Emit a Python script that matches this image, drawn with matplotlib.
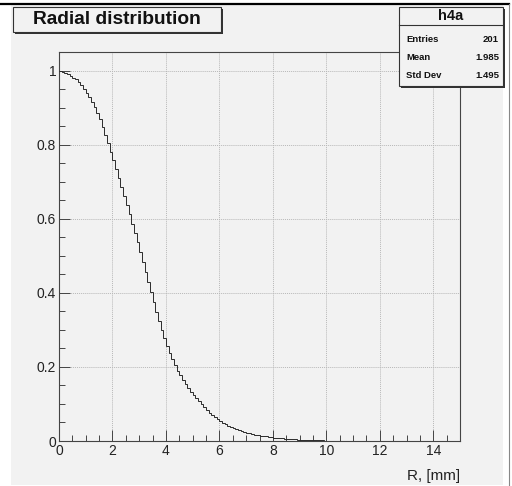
import numpy as np
import matplotlib
matplotlib.use("Agg")
import matplotlib.pyplot as plt
from matplotlib.patches import Rectangle
from matplotlib.lines import Line2D

plt.rcParams['font.family'] = ['Liberation Sans', 'DejaVu Sans']

# histogram contents, bin width 0.1 starting at R = 0
bin_width = 0.1
counts = [
    1.000, 0.998, 0.995, 0.992, 0.987,
    0.982, 0.977, 0.970, 0.961, 0.951,
    0.940, 0.929, 0.916, 0.902, 0.887,
    0.869, 0.848, 0.827, 0.805, 0.782,
    0.758, 0.734, 0.710, 0.686, 0.662,
    0.637, 0.612, 0.587, 0.562, 0.537,
    0.510, 0.483, 0.456, 0.429, 0.402,
    0.375, 0.349, 0.324, 0.300, 0.278,
    0.258, 0.239, 0.221, 0.204, 0.189,
    0.177, 0.165, 0.153, 0.142, 0.132,
    0.124, 0.115, 0.107, 0.099, 0.091,
    0.084, 0.077, 0.071, 0.065, 0.059,
    0.053, 0.049, 0.045, 0.041, 0.038,
    0.035, 0.032, 0.029, 0.027, 0.024,
    0.0225, 0.021, 0.019, 0.0175, 0.016,
    0.0145, 0.0135, 0.0123, 0.0112, 0.0100,
    0.0092, 0.0085, 0.0078, 0.0071, 0.0064,
    0.0058, 0.0053, 0.0048, 0.0043, 0.0038,
    0.0035, 0.0032, 0.0029, 0.0026, 0.0023,
    0.0020, 0.0018, 0.0016, 0.0014, 0.0012,
    0.0010, 0.0009, 0.0008,
]
xticks = [0, 2, 4, 6, 8, 10, 12, 14]
yticks = [0, 0.2, 0.4, 0.6, 0.8, 1.0]
ytick_labels = ['0', '0.2', '0.4', '0.6', '0.8', '1']
title = "Radial distribution"
xlabel = "R, [mm]"
stats_name = "h4a"
stats_rows = [("Entries", "201"), ("Mean", "1.985"), ("Std Dev", "1.495")]

W, H = 512, 486
bg = '#f2f2f2'
fig = plt.figure(figsize=(W / 100, H / 100), dpi=100)
fig.patch.set_facecolor('white')

def fx(px):
    return px / W

def fy(py):
    return 1 - py / H

# canvas background and outer frame lines
fig.patches.append(Rectangle((fx(11), fy(485)), fx(503) - fx(11), fy(5) - fy(485),
                             transform=fig.transFigure, facecolor=bg, edgecolor='none', zorder=-5))
fig.lines.append(Line2D([0, fx(509)], [fy(4), fy(4)], transform=fig.transFigure, color='black', lw=1.6))
fig.lines.append(Line2D([fx(508.5), fx(508.5)], [0, fy(4)], transform=fig.transFigure, color='#888888', lw=0.8))

ax = fig.add_axes([fx(59), fy(441), fx(460) - fx(59), fy(52) - fy(441)])
ax.set_facecolor(bg)

edges = np.arange(len(counts) + 1) * bin_width
ax.stairs(counts, edges, baseline=None, color='#2a2a2a', lw=0.7, zorder=3)

ax.set_xlim(0, 15)
ax.set_ylim(0, 1.051)
ax.set_xticks(xticks)
ax.set_xticks(np.arange(0, 15.01, 0.5), minor=True)
ax.set_yticks(yticks)
ax.set_yticklabels(ytick_labels)
ax.set_yticks(np.arange(0, 1.051, 0.05), minor=True)
ax.grid(True, which='major', linestyle=(0, (1, 1)), color='#b8b8b8', lw=0.7)
ax.set_axisbelow(True)
ax.tick_params(which='both', direction='in', top=False, right=False, color='#444444', width=0.7,
               labelsize=10, labelcolor='#222222')
ax.tick_params(which='major', length=8)
ax.tick_params(which='minor', length=4)
ax.tick_params(axis='y', pad=2)
ax.tick_params(axis='x', pad=2)
for s in ax.spines.values():
    s.set_color('#444444')
    s.set_linewidth(0.8)

fig.text(fx(460), fy(476), xlabel, ha='right', va='center', fontsize=11, color='#222222')

# title box with shadow
fig.patches.append(Rectangle((fx(15), fy(34)), fx(221) - fx(13), fy(7) - fy(32),
                             transform=fig.transFigure, facecolor='#333333', edgecolor='none', zorder=4))
fig.patches.append(Rectangle((fx(13), fy(32)), fx(221) - fx(13), fy(7) - fy(32),
                             transform=fig.transFigure, facecolor=bg, edgecolor='#333333', lw=0.8, zorder=5))
fig.text(fx(117), fy(19.5), title, ha='center', va='center', fontsize=13.8, fontweight='bold',
         color='#111111', zorder=6)

# stats box with shadow
fig.patches.append(Rectangle((fx(401), fy(88)), fx(503) - fx(399), fy(7) - fy(86),
                             transform=fig.transFigure, facecolor='#333333', edgecolor='none', zorder=4))
fig.patches.append(Rectangle((fx(399), fy(86)), fx(503) - fx(399), fy(7) - fy(86),
                             transform=fig.transFigure, facecolor=bg, edgecolor='#333333', lw=0.8, zorder=5))
fig.lines.append(Line2D([fx(399), fx(503)], [fy(25), fy(25)], transform=fig.transFigure,
                        color='#333333', lw=0.8, zorder=6))
fig.text(fx(451), fy(16), stats_name, ha='center', va='center', fontsize=10.5, fontweight='bold',
         color='#111111', zorder=6)
for i, (k, v) in enumerate(stats_rows):
    y = fy(40 + 17.5 * i)
    fig.text(fx(406), y, k, ha='left', va='center', fontsize=6.8, fontweight='bold', color='#111111', zorder=6)
    fig.text(fx(499), y, v, ha='right', va='center', fontsize=6.8, fontweight='bold', color='#111111', zorder=6)

fig.savefig('out.png', dpi=100, facecolor=fig.get_facecolor())
